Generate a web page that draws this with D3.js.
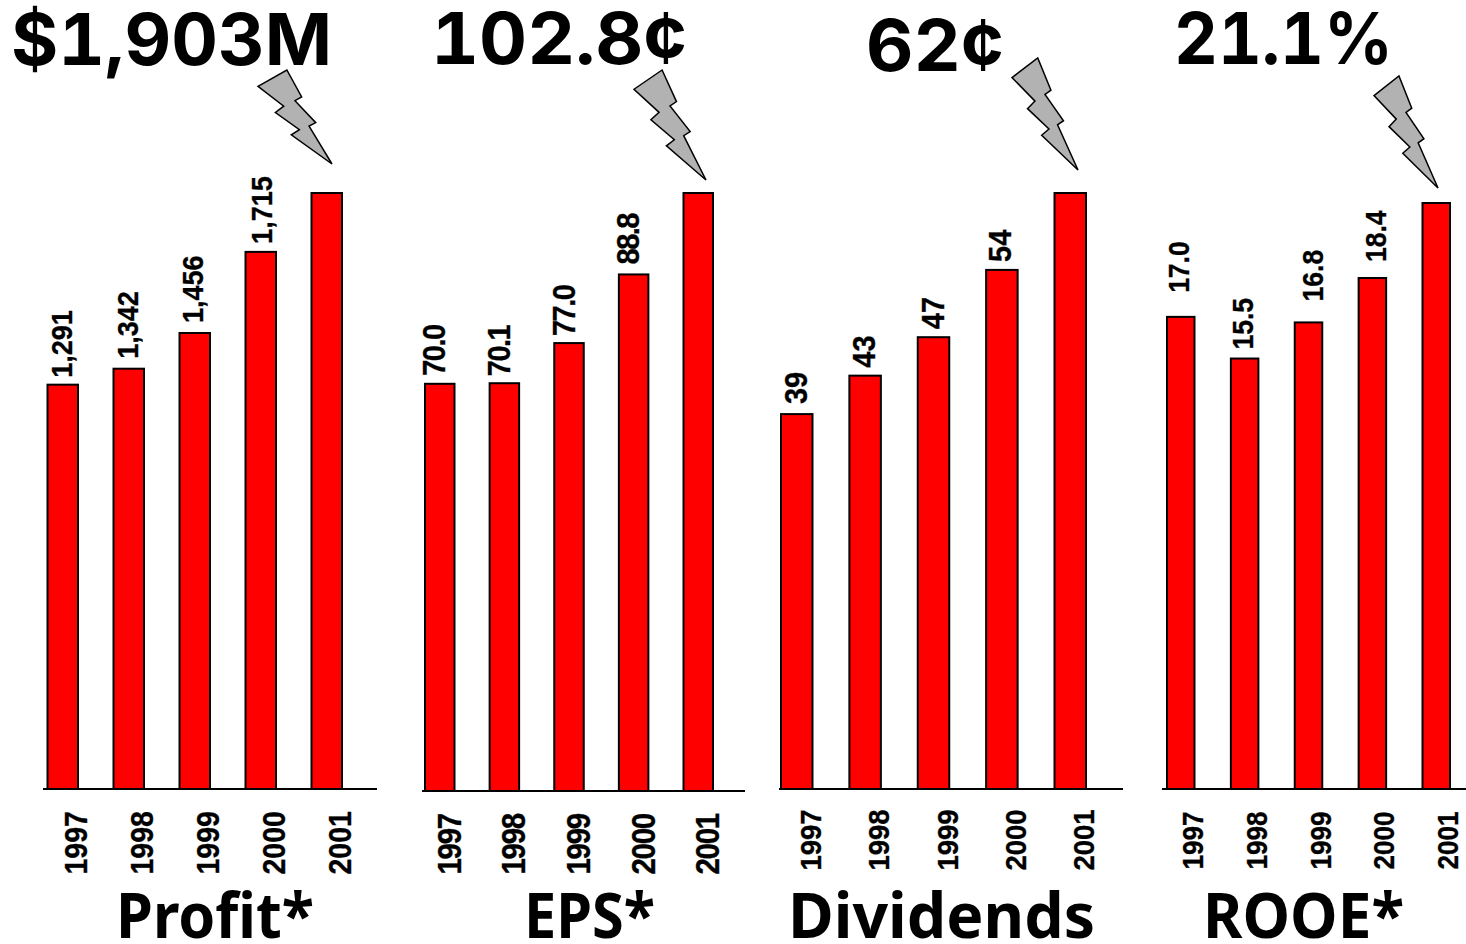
<!DOCTYPE html>
<html>
<head>
<meta charset="utf-8">
<script src="https://cdn.jsdelivr.net/npm/d3@7/dist/d3.min.js"></script>
<style>
  html, body { margin: 0; padding: 0; background: #fff; }
  svg { display: block; }
  .headline { font-variant-numeric: tabular-nums; }
</style>
</head>
<body>
<svg id="chart" width="1466" height="944"></svg>
<script>
// Five-year results, one small bar panel per measure.
const years = ["1997", "1998", "1999", "2000", "2001"];

const profit = [1291, 1342, 1456, 1715, 1903];
const eps = [70.0, 70.1, 77.0, 88.8, 102.8];
const dividends = [39, 43, 47, 54, 62];
const rooe = [17.0, 15.5, 16.8, 18.4, 21.1];

const measureNames = ["Profit*", "EPS*", "Dividends", "ROOE*"];
const headlineValues = ["$1,903M", "102.8¢", "62¢", "21.1%"];

// Panel layout: bar placement, axis extent, label nudges and text extents.
const panels = [
  { values: profit, format: d3.format(","), barX: [47.5, 342], barW: 30.5, baseY: 789, topY: 193,
    axisX: [43, 377], labelDx: [9, 9, 8, 11], labelGap: [8, 11, 11, 9], labelSize: 27, labelSpacing: 0,
    yearDx: 24, yearY: 874.5, yearSize: 28.5, yearSpacing: 0,
    headX: 11, headY: 65, headW: 321, nameX: 116, nameW: 198,
    bolt: [258, 70, 332, 164] },
  { values: eps, format: d3.format(".1f"), barX: [425, 713], barW: 29.5, baseY: 791, topY: 193,
    axisX: [422, 745], labelDx: [5.5, 5.5, 5.5, 5.5], labelGap: [9, 8, 8, 11], labelSize: 29, labelSpacing: -1.5,
    yearDx: 21, yearY: 874.5, yearSize: 29.5, yearSpacing: -1.3,
    headX: 431, headY: 64, headW: 256, nameX: 524, nameW: 131,
    bolt: [634, 70, 706, 180] },
  { values: dividends, format: d3.format("d"), barX: [781, 1086], barW: 31.5, baseY: 789, topY: 193,
    axisX: [779, 1123], labelDx: [10, 10, 10, 9], labelGap: [11, 9, 9, 9], labelSize: 29, labelSpacing: 0,
    yearDx: 24, yearY: 870.5, yearSize: 27.5, yearSpacing: 0,
    headX: 866, headY: 71, headW: 138, nameX: 788, nameW: 307,
    bolt: [1012, 58, 1078, 170] },
  { values: rooe, format: d3.format(".1f"), barX: [1167, 1450], barW: 27.5, baseY: 789, topY: 203,
    axisX: [1162, 1466], labelDx: [8.5, 8.5, 14.5, 13.5], labelGap: [25, 10, 22, 17], labelSize: 26.5, labelSpacing: 0,
    yearDx: 22, yearY: 869.5, yearSize: 26, yearSpacing: 0,
    headX: 1174, headY: 64, headW: 219, nameX: 1203, nameW: 201,
    bolt: [1374, 76, 1438, 188] }
];

// Lightning bolt outline in unit coordinates, fitted to each panel's box.
const boltShape = [
  [0, .175], [.39, 0], [.59, .287], [.50, .326], [.78, .56], [.69, .597],
  [1, 1], [.45, .69], [.56, .634], [.235, .452], [.348, .385]
];

const svg = d3.select("#chart");
const boltLine = d3.line().curve(d3.curveLinearClosed);

// Rotated labels are slightly tall for their length.
const upright = "rotate(-90) scale(1,1.1)";

panels.forEach((p, i) => {
  const g = svg.append("g").attr("class", "panel");

  const x = d3.scaleBand()
    .domain(years)
    .range([p.barX[0], p.barX[1]])
    .paddingInner(1 - p.barW / ((p.barX[1] - p.barX[0] - p.barW) / 4))
    .paddingOuter(0);
  const y = d3.scaleLinear()
    .domain([0, d3.max(p.values)])
    .range([p.baseY, p.topY]);
  const rows = years.map((year, k) => ({ year, value: p.values[k], k }));

  // Bars
  g.selectAll("rect")
    .data(rows)
    .join("rect")
    .attr("x", d => x(d.year))
    .attr("y", d => y(d.value))
    .attr("width", x.bandwidth())
    .attr("height", d => y(0) - y(d.value))
    .attr("fill", "#ff0000")
    .attr("stroke", "#000")
    .attr("stroke-width", 2);

  // Value labels read upward above each bar; the final year is stated by the headline.
  g.selectAll("text.value")
    .data(rows.slice(0, -1))
    .join("text")
    .attr("class", "value")
    .attr("transform", d => `translate(${x(d.year) + x.bandwidth() / 2 + p.labelDx[d.k]},${y(d.value) - p.labelGap[d.k] + 1}) ${upright}`)
    .attr("font-family", "'Liberation Sans', Arial, sans-serif")
    .attr("font-weight", 700)
    .attr("font-size", p.labelSize)
    .attr("letter-spacing", p.labelSpacing)
    .attr("fill", "#000")
    .attr("stroke", "#000")
    .attr("stroke-width", 0.3)
    .text(d => p.format(d.value));

  // Year axis with a baseline wider than the bars
  const axis = g.append("g")
    .attr("transform", `translate(0,${p.baseY})`)
    .call(d3.axisBottom(x).tickSize(0));
  axis.select(".domain").remove();
  axis.selectAll(".tick text")
    .attr("transform", `translate(${p.yearDx},${p.yearY - p.baseY}) ${upright}`)
    .attr("x", 0).attr("y", 0).attr("dy", 0)
    .attr("text-anchor", "start")
    .attr("font-family", "'Liberation Sans', Arial, sans-serif")
    .attr("font-weight", 700)
    .attr("font-size", p.yearSize)
    .attr("letter-spacing", p.yearSpacing)
    .attr("fill", "#000")
    .attr("stroke", "#000")
    .attr("stroke-width", 0.3);
  axis.append("line")
    .attr("x1", p.axisX[0]).attr("x2", p.axisX[1])
    .attr("y1", 0).attr("y2", 0)
    .attr("stroke", "#000").attr("stroke-width", 2);

  // Lightning bolt pointing at the latest bar
  const bx = d3.scaleLinear().range([p.bolt[0], p.bolt[2]]);
  const by = d3.scaleLinear().range([p.bolt[1], p.bolt[3]]);
  g.append("path")
    .attr("d", boltLine(boltShape.map(([a, b]) => [bx(a), by(b)])))
    .attr("fill", "#b2b2b2")
    .attr("stroke", "#000")
    .attr("stroke-width", 1.5)
    .attr("stroke-linejoin", "miter");

  // Headline figure
  g.append("text")
    .attr("class", "headline")
    .attr("x", p.headX).attr("y", p.headY)
    .attr("font-family", "Inter, 'Noto Sans', sans-serif")
    .attr("font-weight", 700)
    .attr("font-size", 71)
    .attr("textLength", p.headW)
    .attr("lengthAdjust", "spacingAndGlyphs")
    .attr("fill", "#000")
    .text(headlineValues[i]);

  // Measure name
  g.append("text")
    .attr("x", p.nameX).attr("y", 938)
    .attr("font-family", "'Noto Sans', 'Open Sans', sans-serif")
    .attr("font-weight", 700)
    .attr("font-size", 63)
    .attr("textLength", p.nameW)
    .attr("lengthAdjust", "spacingAndGlyphs")
    .attr("fill", "#000")
    .text(measureNames[i]);
});
</script>
</body>
</html>
